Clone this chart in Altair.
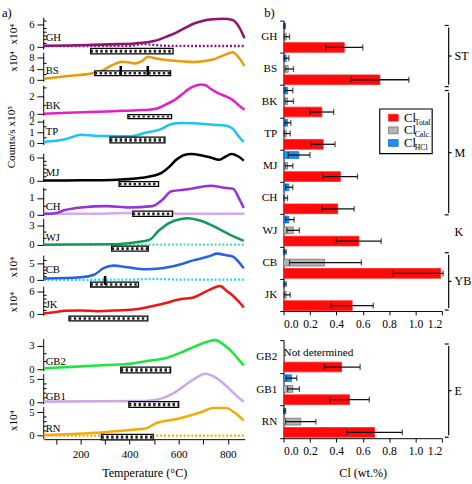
import altair as alt
import pandas as pd

FONT = "Liberation Serif"

# ---------------- a) signal versus temperature ----------------
GH_T = [50, 150, 250, 350, 420, 470, 510, 550, 590, 630, 665, 700, 740, 780, 820, 845, 868]
GH_V = [0.35, 0.45, 0.6, 0.8, 1.0, 1.3, 1.8, 2.8, 3.9, 5.3, 6.4, 7.1, 7.5, 7.6, 7.3, 5.5, 2.4]
GH2_T = [50, 200, 400, 450, 500, 550, 700, 868]
GH2_V = [0.25, 0.3, 0.35, 0.8, 0.6, 0.35, 0.3, 0.3]

BS_T = [50, 150, 250, 290, 320, 345, 370, 400, 425, 450, 475, 490, 520, 560, 620, 660, 700, 740, 780, 820, 845, 868]
BS_V = [0.5, 1.5, 2.5, 3.5, 5.0, 6.0, 6.6, 6.3, 6.0, 6.8, 8.4, 8.1, 7.6, 7.1, 6.7, 6.5, 6.8, 7.4, 8.8, 10.0, 8.0, 5.1]

BK_T = [50, 150, 267, 350, 426, 505, 545, 584, 615, 637, 663, 690, 710, 730, 760, 795, 821, 845, 868]
BK_V = [0.04, 0.15, 0.26, 0.35, 0.44, 0.6, 1.07, 1.63, 2.3, 2.8, 3.2, 3.4, 3.3, 2.9, 2.4, 2.0, 1.6, 1.0, 0.5]

TP_T = [50, 100, 136, 170, 202, 267, 330, 399, 465, 531, 570, 610, 660, 729, 795, 821, 845, 865]
TP_V = [0.12, 0.22, 0.36, 0.6, 0.78, 0.66, 0.65, 0.63, 0.95, 1.31, 1.76, 1.85, 1.82, 1.7, 1.6, 1.31, 0.6, 0.12]

MJ_T = [50, 200, 330, 450, 500, 530, 560, 590, 620, 650, 690, 730, 765, 790, 815, 840, 865]
MJ_V = [0.0, 0.05, 0.15, 0.7, 1.3, 2.0, 3.5, 5.4, 6.6, 6.9, 6.6, 6.0, 5.4, 6.2, 6.9, 6.4, 5.2]

CH_T = [50, 96, 136, 202, 307, 399, 492, 531, 570, 637, 729, 795, 821, 845, 865]
CH_V = [0.04, 0.08, 0.27, 0.43, 0.51, 0.43, 0.51, 0.86, 1.41, 1.53, 1.75, 1.61, 1.57, 1.0, 0.4]
CH2_T = [50, 300, 380, 450, 520, 600, 868]
CH2_V = [0.05, 0.05, 0.1, 0.07, 0.1, 0.05, 0.05]

WJ_T = [50, 330, 426, 479, 518, 558, 610, 637, 690, 769, 821, 865]
WJ_V = [0.0, 0.05, 0.4, 0.73, 2.2, 3.4, 4.1, 4.2, 3.8, 2.4, 1.34, 0.6]
WJ2_T = [50, 868]
WJ2_V = [0.0, 0.0]

CB_T = [50, 202, 255, 294, 333, 399, 465, 531, 597, 663, 729, 756, 795, 821, 845, 865]
CB_V = [0.4, 0.8, 1.6, 3.6, 4.4, 3.8, 3.3, 3.6, 4.6, 6.1, 7.4, 8.1, 7.6, 7.2, 5.5, 3.6]
CB2_T = [50, 400, 500, 600, 868]
CB2_V = [0.0, 0.1, 0.3, 0.1, 0.1]

JK_T = [50, 100, 136, 202, 267, 350, 426, 531, 610, 663, 729, 769, 795, 821, 845, 865]
JK_V = [0.2, 0.6, 0.9, 1.0, 0.8, 1.0, 1.3, 2.7, 4.0, 4.5, 6.6, 7.5, 6.2, 4.9, 3.3, 1.8]

GB2_T = [50, 202, 333, 399, 465, 545, 610, 663, 716, 749, 782, 821, 845, 865]
GB2_V = [0.12, 0.37, 0.58, 0.7, 1.04, 1.42, 2.17, 2.9, 3.54, 3.75, 3.2, 2.1, 1.2, 0.5]

GB1_T = [50, 465, 531, 570, 610, 663, 709, 742, 795, 821, 845, 865]
GB1_V = [0.2, 0.35, 0.9, 1.74, 3.1, 5.07, 6.2, 5.6, 3.5, 2.2, 1.0, 0.2]

RN_T = [50, 150, 267, 399, 465, 505, 597, 690, 742, 795, 821, 845, 865]
RN_V = [0.14, 0.3, 0.6, 1.2, 1.5, 2.6, 3.6, 5.0, 5.9, 5.9, 5.2, 4.2, 3.2]
RN2_T = [50, 868]
RN2_V = [0.0, 0.0]

# temperature windows (start, end) marked under each trace
WINDOWS = {
    "GH": (241, 577), "BS": (258, 567), "BK": (393, 571), "TP": (320, 544),
    "MJ": (357, 518), "CH": (413, 575), "WJ": (327, 476), "CB": (241, 436),
    "JK": (153, 474), "GB2": (364, 567), "GB1": (397, 600), "RN": (285, 496),
}
# marked temperatures (arrows)
ARROWS = {"BS": [364, 474], "CB": [300]}

# axis tick values per trace
MAJOR = {
    "GH": [0, 6], "BS": [0, 4, 8], "BK": [0, 2], "TP": [0, 1, 2], "MJ": [0, 6],
    "CH": [0, 1], "WJ": [0, 3], "CB": [0, 5], "JK": [0, 6], "GB2": [0, 3],
    "GB1": [0, 5], "RN": [0, 5],
}
MINOR = {
    "GH": [1, 2, 3, 4, 5, 7], "BS": [2, 6], "BK": [1, 3], "TP": [0.5, 1.5],
    "MJ": [1, 2, 3, 4, 5], "CH": [0.5, 1.5], "WJ": [1, 2], "CB": [1, 2, 3, 4, 6],
    "JK": [1, 2, 3, 4, 5], "GB2": [1, 2], "GB1": [1, 2, 3, 4], "RN": [1, 2, 3, 4],
}

SERIES = [
    ("GH", [(GH_T, GH_V, "#8c1473", False), (GH2_T, GH2_V, "#8c1473", True)]),
    ("BS", [(BS_T, BS_V, "#eb9a0a", False)]),
    ("BK", [(BK_T, BK_V, "#e61ec8", False)]),
    ("TP", [(TP_T, TP_V, "#1ec3f0", False)]),
    ("MJ", [(MJ_T, MJ_V, "#000000", False)]),
    ("CH", [(CH2_T, CH2_V, "#d2aaf0", False), (CH_T, CH_V, "#9632dc", False)]),
    ("WJ", [(WJ2_T, WJ2_V, "#3ce6aa", True), (WJ_T, WJ_V, "#119a55", False)]),
    ("CB", [(CB2_T, CB2_V, "#28d2f5", True), (CB_T, CB_V, "#2860e6", False)]),
    ("JK", [(JK_T, JK_V, "#f01414", False)]),
    ("GB2", [(GB2_T, GB2_V, "#1ee641", False)]),
    ("GB1", [(GB1_T, GB1_V, "#c8aaeb", False)]),
    ("RN", [(RN2_T, RN2_V, "#f5aa0a", True), (RN_T, RN_V, "#f5aa0a", False)]),
]

# panel layout: height, zero line offset, px per unit, axis line span,
# window box span, label offset, arrow span, side label
LAYOUT = {
    "GH": dict(h=33, zero=27.3, ppu=3.833, ax=(-3, 30), box=(28.7, 34.3), lab=18.3, side=("x10⁴", 14)),
    "BS": dict(h=34, zero=28.3, ppu=2.875, ax=(0, 30), box=(18.7, 23.7), lab=19.5, arr=(13.7, 23.7), side=("x10⁴", 9)),
    "BK": dict(h=35, zero=29.3, ppu=9.0, ax=(0, 31), box=(29.7, 34.0), lab=21),
    "TP": dict(h=35, zero=24.3, ppu=11.3, ax=(0, 26), box=(18.0, 24.0), lab=13, side=("Counts/s x10⁵", 18)),
    "MJ": dict(h=35, zero=27.7, ppu=3.95, ax=(0, 29), box=(28.7, 33.7), lab=20.5),
    "CH": dict(h=32, zero=27.7, ppu=17.0, ax=(0, 29), box=(24.3, 29.7), lab=19.7),
    "WJ": dict(h=38, zero=26.7, ppu=6.47, ax=(0, 28), box=(28.3, 33.3), lab=20),
    "CB": dict(h=32, zero=25.0, ppu=3.34, ax=(0, 26), box=(27.3, 32.3), lab=15, arr=(21, 30), side=("x10⁴", 12)),
    "JK": dict(h=54, zero=28.3, ppu=3.88, ax=(0, 30), box=(30.3, 35.3), lab=18.5, side=("x10⁴", 16)),
    "GB2": dict(h=36, zero=31.0, ppu=8.0, ax=(0, 33), box=(28.7, 34.7), lab=23.5),
    "GB1": dict(h=34, zero=29.3, ppu=4.8, ax=(0, 31), box=(28.3, 34.3), lab=23.3),
    "RN": dict(h=33, zero=29.3, ppu=4.8, ax=(0, 33), box=(28.0, 33.7), lab=22.7, side=("x10⁴", 14)),
}

PANEL_W = 207
ONE = pd.DataFrame({"k": [0]})
AX_FONT = dict(labelFont=FONT, titleFont=FONT, labelColor="black", titleColor="black")


def trace_panel(name, lines, last):
    L = LAYOUT[name]
    h = L["h"]
    lo = -(h - L["zero"]) / L["ppu"]
    hi = L["zero"] / L["ppu"]
    ysc = alt.Scale(domain=[lo, hi], nice=False, zero=False)
    xsc = alt.Scale(domain=[50, 869], nice=False)
    yax = alt.Axis(values=MAJOR[name], title=None, domain=False, grid=False,
                   tickSize=7, labelPadding=3, labelFontSize=11, **AX_FONT)
    if last:
        xax = alt.Axis(values=[100, 200, 300, 400, 500, 600, 700, 800],
                       labelExpr="datum.value % 200 === 0 ? datum.label : ''",
                       title="Temperature (°C)", tickSize=5, grid=False,
                       labelFontSize=11.5, titleFontSize=12.5, titlePadding=7,
                       titleFontWeight="normal", labelPadding=5, **AX_FONT)
    else:
        xax = None

    layers = []
    # axis line
    layers.append(alt.Chart(ONE).mark_rule(color="black", strokeWidth=1).encode(
        x=alt.value(0), y=alt.value(L["ax"][0]), y2=alt.value(L["ax"][1])))
    # minor ticks
    layers.append(alt.Chart(pd.DataFrame({"v": MINOR[name]})).mark_rule(
        color="black", strokeWidth=1).encode(
        x=alt.value(0), x2=alt.value(3),
        y=alt.Y("v:Q", scale=ysc, axis=yax)))
    # traces
    for T, V, color, dotted in lines:
        kw = dict(color=color, strokeWidth=2.6, interpolate="monotone")
        if dotted:
            kw.update(strokeDash=[2, 2], strokeWidth=2.4)
        layers.append(alt.Chart(pd.DataFrame({"T": T, "v": V})).mark_line(**kw).encode(
            x=alt.X("T:Q", scale=xsc, axis=xax),
            y=alt.Y("v:Q", scale=ysc, axis=yax)))
    # temperature window box with hatch
    t0, t1 = WINDOWS[name]
    wdf = pd.DataFrame({"T0": [t0], "T1": [t1]})
    b0, b1 = L["box"]
    layers.append(alt.Chart(wdf).mark_rect(fill="white", stroke="black", strokeWidth=1.3).encode(
        x=alt.X("T0:Q", scale=xsc, axis=xax), x2="T1:Q",
        y=alt.value(b0), y2=alt.value(b1)))
    layers.append(alt.Chart(wdf).mark_rule(color="#222222", strokeWidth=max(b1 - b0 - 2.4, 1),
                                           strokeDash=[2.5, 2.5]).encode(
        x=alt.X("T0:Q", scale=xsc, axis=xax), x2="T1:Q",
        y=alt.value((b0 + b1) / 2)))
    # arrows
    if name in ARROWS:
        a0, a1 = L["arr"]
        layers.append(alt.Chart(pd.DataFrame({"T": ARROWS[name]})).mark_rule(
            color="black", strokeWidth=2.6).encode(
            x=alt.X("T:Q", scale=xsc, axis=xax),
            y=alt.value(a0), y2=alt.value(a1)))
    # sample name
    layers.append(alt.Chart(ONE).mark_text(
        text=name, align="left", baseline="middle", fontSize=11, font=FONT, color="black").encode(
        x=alt.value(2), y=alt.value(L["lab"])))
    if "side" in L:
        txt, yy = L["side"]
        layers.append(alt.Chart(ONE).mark_text(
            text=txt, angle=270, align="center", baseline="middle",
            fontSize=11.5, font=FONT, color="black").encode(
            x=alt.value(-31 if txt.startswith("x") else -33), y=alt.value(yy)))
    if name == "GH":
        layers.append(alt.Chart(ONE).mark_text(
            text="a)", align="left", baseline="bottom", fontSize=13, font=FONT, color="black").encode(
            x=alt.value(-43), y=alt.value(-1)))
    return alt.layer(*layers).properties(width=PANEL_W, height=h)


left = alt.vconcat(*[trace_panel(n, ls, i == len(SERIES) - 1) for i, (n, ls) in enumerate(SERIES)],
                   spacing=0, bounds="flush")

# ---------------- b) chlorine content ----------------
GROUPS_A = ["GH", "BS", "BK", "TP", "MJ", "CH", "WJ", "CB", "JK"]
TOTAL_A = [0.46, 0.73, 0.29, 0.30, 0.43, 0.41, 0.57, 1.19, 0.52]
TOTAL_A_LO = [0.32, 0.51, 0.20, 0.21, 0.30, 0.29, 0.40, 0.83, 0.36]
TOTAL_A_HI = [0.60, 0.95, 0.38, 0.39, 0.56, 0.535, 0.74, 1.21, 0.68]
CALC_A = [0.02, 0.035, 0.03, 0.02, 0.03, 0.01, 0.074, 0.31, 0.02]
CALC_A_LO = [0.005, 0.01, 0.01, 0.005, 0.01, 0.003, 0.025, 0.045, 0.005]
CALC_A_HI = [0.045, 0.075, 0.075, 0.05, 0.07, 0.03, 0.12, 0.59, 0.05]
HCL_A = [0.008, 0.02, 0.03, 0.03, 0.115, 0.04, 0.04, 0.01, 0.01]
HCL_A_LO = [0.003, 0.005, 0.01, 0.01, 0.035, 0.015, 0.015, 0.003, 0.003]
HCL_A_HI = [0.012, 0.04, 0.07, 0.055, 0.20, 0.07, 0.08, 0.02, 0.02]

GROUPS_B = ["GB2", "GB1", "RN"]
TOTAL_B = [0.44, 0.50, 0.69]
TOTAL_B_LO = [0.31, 0.35, 0.48]
TOTAL_B_HI = [0.58, 0.65, 0.90]
CALC_B = [None, 0.07, 0.13]
CALC_B_LO = [None, 0.03, 0.015]
CALC_B_HI = [None, 0.12, 0.245]
HCL_B = [None, 0.06, 0.01]
HCL_B_LO = [None, 0.02, 0.003]
HCL_B_HI = [None, 0.10, 0.015]

KEYS = ["HCl", "Calc", "Total"]
FILL = {"HCl": "#1e8ff0", "Calc": "#b4b4b4", "Total": "#ff0a0a"}
EDGE = {"HCl": "#1a6fc8", "Calc": "#707070", "Total": "#ff2020"}


def long_rows(groups, triples):
    rows = []
    for key, (vals, los, his) in zip(KEYS, triples):
        for g, v, l, hh in zip(groups, vals, los, his):
            if v is None:
                continue
            rows.append({"group": g, "series": key, "value": v, "lo": l, "hi": hh})
    return pd.DataFrame(rows)


def bar_chart(groups, df, height, xtitle, extra):
    ysc = alt.Scale(domain=groups, paddingInner=0, paddingOuter=0)
    yax = alt.Axis(title=None, tickBand="extent", tickSize=4, labelFontSize=11.5,
                   labelPadding=3, domainColor="black", tickColor="black", grid=False, **AX_FONT)
    osc = alt.Scale(domain=KEYS, paddingInner=0, paddingOuter=0)
    xsc = alt.Scale(domain=[0, 1.2], nice=False, zero=True)
    xax = alt.Axis(values=[0, 0.2, 0.4, 0.6, 0.8, 1.0, 1.2], format=".1f", title=xtitle,
                   tickSize=4, labelFontSize=12, titleFontSize=12.5, titleFontWeight="normal",
                   grid=False, labelPadding=4, titlePadding=10, **AX_FONT)
    y = alt.Y("group:N", sort=groups, scale=ysc, axis=yax)
    yo = alt.YOffset("series:N", scale=osc, sort=KEYS)
    base = alt.Chart(df)
    layers = []
    for key, thick in [("HCl", 7), ("Calc", 7), ("Total", 10)]:
        layers.append(base.transform_filter(alt.datum.series == key).mark_bar(
            fill=FILL[key], stroke=EDGE[key], strokeWidth=0.8).encode(
            x=alt.X("value:Q", scale=xsc, axis=xax), y=y, yOffset=yo,
            size=alt.value(thick)))
    layers.append(base.mark_rule(color="#111111", strokeWidth=1.3).encode(
        x=alt.X("lo:Q", scale=xsc, axis=xax), x2="hi:Q", y=y, yOffset=yo))
    layers.append(base.transform_fold(["lo", "hi"], as_=["end", "pos"]).mark_tick(
        color="#111111", thickness=1.3, size=6).encode(
        x=alt.X("pos:Q", scale=xsc, axis=xax), y=y, yOffset=yo))
    layers.extend(extra)
    return alt.layer(*layers).properties(width=163, height=height)


def bracket(y0, y1, label, with_brace=True):
    out = []
    xm = 170
    mid = (y0 + y1) / 2
    if with_brace:
        out.append(alt.Chart(ONE).mark_rule(color="black", strokeWidth=1.2).encode(
            x=alt.value(xm), y=alt.value(y0 + 2), y2=alt.value(y1 - 2)))
        for yy in (y0, y1):
            out.append(alt.Chart(ONE).mark_rule(color="black", strokeWidth=1.2).encode(
                x=alt.value(xm - 4), x2=alt.value(xm), y=alt.value(yy)))
        out.append(alt.Chart(ONE).mark_rule(color="black", strokeWidth=1.2).encode(
            x=alt.value(xm), x2=alt.value(xm + 3), y=alt.value(mid)))
    out.append(alt.Chart(ONE).mark_text(
        text=label, align="left", baseline="middle", fontSize=12.5, font=FONT, color="black").encode(
        x=alt.value(xm + 6), y=alt.value(mid)))
    return out


# legend drawn as marks
LEG_ROWS = [("Total", 100), ("Calc.", 113), ("HCl", 126)]
legend_layers = [alt.Chart(ONE).mark_rect(fill="white", stroke="black", strokeWidth=1.2).encode(
    x=alt.value(99), x2=alt.value(153), y=alt.value(91), y2=alt.value(137))]
for (sub, yy), key in zip(LEG_ROWS, ["Total", "Calc", "HCl"]):
    legend_layers.append(alt.Chart(ONE).mark_rect(fill=FILL[key], stroke=EDGE[key], strokeWidth=0.8).encode(
        x=alt.value(108), x2=alt.value(118), y=alt.value(yy - 3.5), y2=alt.value(yy + 3.5)))
    legend_layers.append(alt.Chart(ONE).mark_text(
        text="Cl", align="left", baseline="alphabetic", fontSize=13, font=FONT, color="black").encode(
        x=alt.value(124), y=alt.value(yy + 4)))
    legend_layers.append(alt.Chart(ONE).mark_text(
        text=sub, align="left", baseline="alphabetic", fontSize=8, font=FONT, color="black").encode(
        x=alt.value(135), y=alt.value(yy + 7)))

top_extra = legend_layers + bracket(5, 68, "ST") + bracket(72, 200, "M") + \
    bracket(218, 218, "K", with_brace=False) + bracket(239, 298, "YB")
top_extra.append(alt.Chart(ONE).mark_text(
    text="b)", align="left", baseline="bottom", fontSize=13, font=FONT, color="black").encode(
    x=alt.value(-20), y=alt.value(-1)))

bottom_extra = bracket(4, 100, "E")
bottom_extra.append(alt.Chart(ONE).mark_text(
    text="Not determined", align="left", baseline="middle", fontSize=11.5, font=FONT, color="black").encode(
    x=alt.value(0), y=alt.value(13)))

df_a = long_rows(GROUPS_A, [(HCL_A, HCL_A_LO, HCL_A_HI), (CALC_A, CALC_A_LO, CALC_A_HI),
                            (TOTAL_A, TOTAL_A_LO, TOTAL_A_HI)])
df_b = long_rows(GROUPS_B, [(HCL_B, HCL_B_LO, HCL_B_HI), (CALC_B, CALC_B_LO, CALC_B_HI),
                            (TOTAL_B, TOTAL_B_LO, TOTAL_B_HI)])

top_bars = bar_chart(GROUPS_A, df_a, 299, None, top_extra)
bottom_bars = bar_chart(GROUPS_B, df_b, 101, "Cl (wt.%)", bottom_extra)
right = alt.vconcat(top_bars, bottom_bars, spacing=30, bounds="flush")

chart = alt.hconcat(left, right, spacing=6).properties(
    padding={"left": 2, "top": 0, "right": 0, "bottom": 0}
).configure_view(stroke=None).configure_axis(
    labelFont=FONT, titleFont=FONT, labelColor="black", titleColor="black",
    domainColor="black", tickColor="black", domainWidth=1, tickWidth=1,
    titleFontWeight="normal"
).configure_text(font=FONT)

chart.save("out.html", embed_options={"renderer": "svg", "actions": False})
